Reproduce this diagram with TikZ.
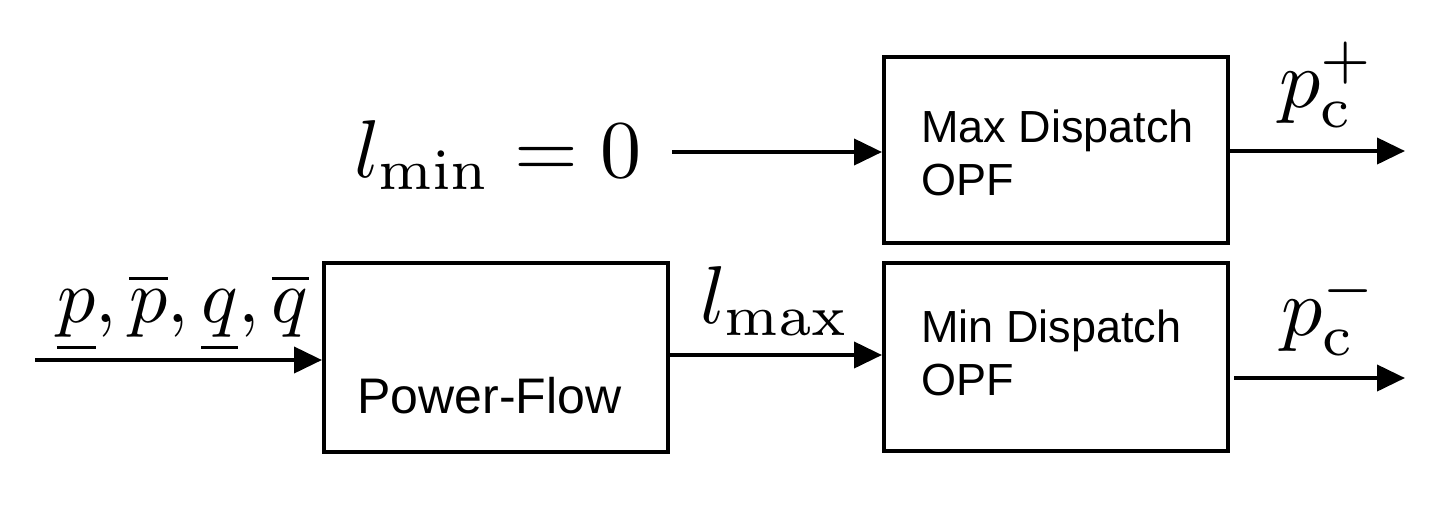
\documentclass[tikz,border=0pt]{standalone}
\usepackage[no-math]{fontspec}
\usepackage{graphicx}
\newfontfamily\helv{Liberation Sans}
\usetikzlibrary{arrows.meta}
\tikzset{
  blk/.style={draw, line width=2pt, inner sep=0pt},
  conn/.style={line width=2pt, -{Triangle[length=14pt,width=13pt]}},
  btext/.style={anchor=base west, inner sep=0pt, font=\helv\fontsize{22.5}{27}\selectfont},
  mlab/.style={anchor=base, inner sep=0pt},
}
\newcommand{\scaledmath}[2]{\scalebox{#1}{$#2$}}
\begin{document}
\begin{tikzpicture}[x=0.5pt,y=-0.5pt]
\useasboundingbox (0,0) rectangle (1443,526);
% boxes
\node[blk, minimum width=172pt, minimum height=94.5pt] (pf) at (496,357.5) {};
\node[blk, minimum width=172pt, minimum height=93pt] (maxd) at (1056,150) {};
\node[blk, minimum width=172pt, minimum height=94pt] (mind) at (1056,357) {};
% box texts
\node[btext, font=\helv\fontsize{25}{30}\selectfont] (pft) at (357,413) {Power-Flow};
\node[btext] (maxt1) at (921,142) {Max Dispatch};
\node[btext] (maxt2) at (921,195) {OPF};
\node[btext] (mint1) at (921,342) {Min Dispatch};
\node[btext] (mint2) at (921,395) {OPF};
% labels
\node[mlab, anchor=base east] (lmin) at (642,177) {\scaledmath{4.1}{l_{\mathrm{min}}=0}};
\node[mlab] (inlab) at (183,322) {\scaledmath{3.8}{\underline{p},\overline{p},\underline{q},\overline{q}}};
\node[mlab] (lmax) at (775,323) {\scaledmath{4.1}{l_{\mathrm{max}}}};
\node[mlab] (pcp) at (1327,107) {\scaledmath{4.1}{p_{\mathrm{c}}^{+}}};
\node[mlab] (pcm) at (1330,335) {\scaledmath{4.1}{p_{\mathrm{c}}^{-}}};
% connector endpoints
\coordinate (inS) at (35,360);
\coordinate (lminS) at (672,152);
\coordinate (outP) at (1405,151);
\coordinate (outM) at (1405,378);
\coordinate (outMs) at (1234,378);
% connectors
\draw[conn] (inS) -- (inS -| pf.west);
\draw[conn] (pf.east |- 0,355) -- (mind.west |- 0,355);
\draw[conn] (lminS) -- (lminS -| maxd.west);
\draw[conn] (maxd.east |- outP) -- (outP);
\draw[conn] (outMs) -- (outM);
\end{tikzpicture}
\end{document}
